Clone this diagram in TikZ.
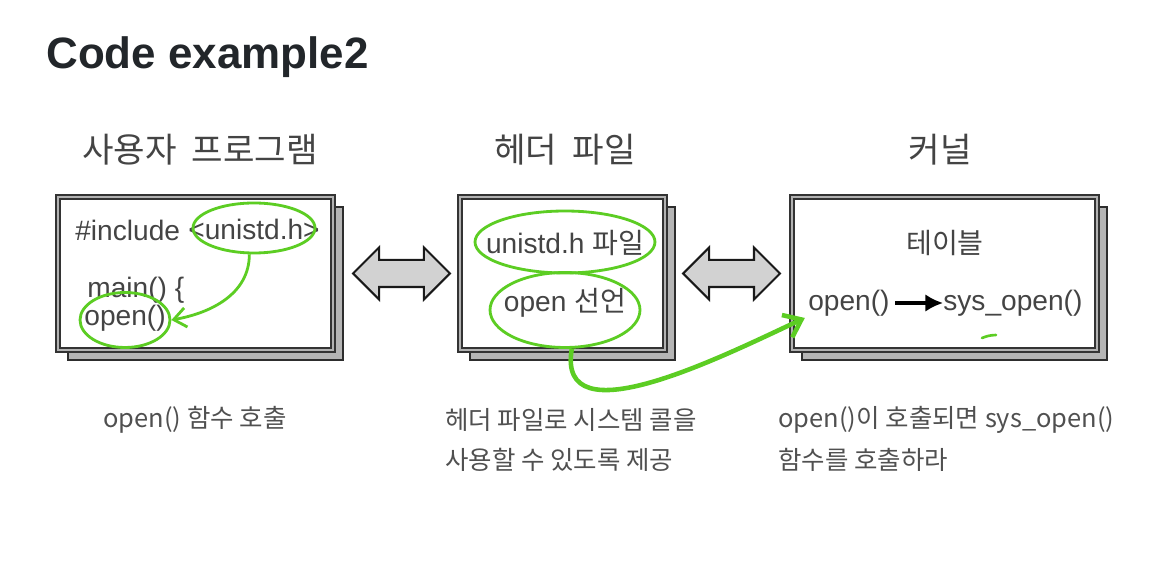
\documentclass[tikz,border=0pt]{standalone}
\usepackage{fontspec}
\setmainfont{Liberation Sans}
\newfontfamily\kr{Noto Sans CJK KR}
\usetikzlibrary{shapes.geometric,shapes.arrows,shadows,arrows.meta,calc}
\definecolor{inkgray}{RGB}{68,68,68}
\definecolor{noteink}{RGB}{80,80,80}
\definecolor{titleink}{RGB}{34,38,42}
\definecolor{penGreen}{RGB}{92,205,35}
\tikzset{
  panel/.style={draw=gray!40!black, double=gray!60, double distance=1.5pt,
    line width=1pt, fill=white, minimum height=3.06cm,
    general shadow={shadow xshift=0.2cm, shadow yshift=-0.2cm,
      fill=gray!58, draw=gray!35!black, line width=1.2pt}},
  codetext/.style={font=\fontsize{16}{19}\selectfont, text=inkgray, inner sep=0},
  hdr/.style={font=\kr\fontsize{19.5}{24}\selectfont, text=inkgray},
  note/.style={font=\kr\fontsize{14.5}{17}\selectfont, text=noteink, anchor=west, inner sep=0},
  ring/.style={ellipse, draw=penGreen, line width=1.6pt, inner sep=0},
  pen/.style={draw=penGreen, line width=1.6pt, -{Straight Barb[length=7pt,width=11pt]}},
  swap/.style={double arrow, draw=gray!20!black, fill=gray!35, line width=1.2pt,
    minimum height=1.94cm, inner xsep=0pt, inner ysep=0.25cm, font=\fontsize{1}{1}\selectfont,
    double arrow head extend=0.25cm}
}
\begin{document}
\begin{tikzpicture}[x=0.02cm,y=-0.02cm]
	\useasboundingbox (0,0) rectangle (1157,563);
	
	% title
	\node[anchor=west, inner sep=0, font=\bfseries\fontsize{25}{30}\selectfont, text=titleink] (title) at (46,57) {Code example2};
	
	% column heads
	\node[hdr] (hUser) at (200,150) {사용자\ \ 프로그램};
	\node[hdr] (hHead) at (565,150) {헤더\ \ 파일};
	\node[hdr] (hKern) at (940,150) {커널};
	
	% panels
	\node[panel, minimum width=5.5cm] (user) at (195.5,273.5) {};
	\node[panel, minimum width=4.1cm] (head) at (562.5,273.5) {};
	\node[panel, minimum width=6.1cm] (kern) at (944.5,273.5) {};
	
	% user program
	\node[codetext, anchor=west] (inc) at (75,230) {\#include};
	\node[codetext] (uni) at (254,229) {<unistd.h>};
	\node[codetext, anchor=west] (mainf) at (87,290) {main() \{};
	\node[codetext] (callOpen) at (125,318) {open()};
	
	% header file
	\node[codetext] (uniFile) at (565,243) {unistd.h {\kr 파일}};
	\node[codetext] (openDecl) at (565,303) {open {\kr 선언}};
	
	% kernel
	\node[codetext, font=\kr\fontsize{16}{19}\selectfont] (table) at (945,243) {테이블};
	\node[codetext, anchor=west] (kOpen) at (808,303) {open()};
	\node[codetext, anchor=west] (sysOpen) at (943,303) {sys\_open()};
	\draw[-{Latex[length=10pt,width=10pt]}, line width=1.8pt, black, shorten <=3pt]
		(kOpen.east) -- (sysOpen.west);
	
	% block arrows
	\node[swap] (swapA) at ($(user.east)!0.5!(head.west)+(5,0)$) {};
	\node[swap] (swapB) at ($(head.east)!0.5!(kern.west)+(3,0)$) {};
	
	% green marks
	\node[ring, minimum width=2.44cm, minimum height=1cm] (uniRing) at (254,228) {};
	\node[ring, minimum width=1.8cm, minimum height=1.1cm] (callRing) at (125,320) {};
	\node[ring, minimum width=3.6cm, minimum height=1.24cm] (fileRing) at (565,242) {};
	\node[ring, minimum width=3.0cm, minimum height=1.5cm] (declRing) at (565,310) {};
	\draw[pen] (uniRing.-100) to[out=-90,in=10] (callRing.east);
	\draw[pen, line width=2.6pt, shorten >=2pt, -{Straight Barb[length=9pt,width=14pt]}]
		(declRing.-80) to[out=-100,in=205] (kOpen.south west);
	\draw[penGreen, line width=1.5pt, line cap=round] (982,338) to[bend left=10] (996,335);
	
	% captions
	\node[note] (capUser) at (103,420) {open() 함수 호출};
	\node[note] (capHead) at (445,420) {헤더 파일로 시스템 콜을};
	\node[note] (capHead2) at (445,460) {사용할 수 있도록 제공};
	\node[note] (capKern) at (778,420) {open()이 호출되면 sys\_open()};
	\node[note] (capKern2) at (778,460) {함수를 호출하라};
\end{tikzpicture}
\end{document}
